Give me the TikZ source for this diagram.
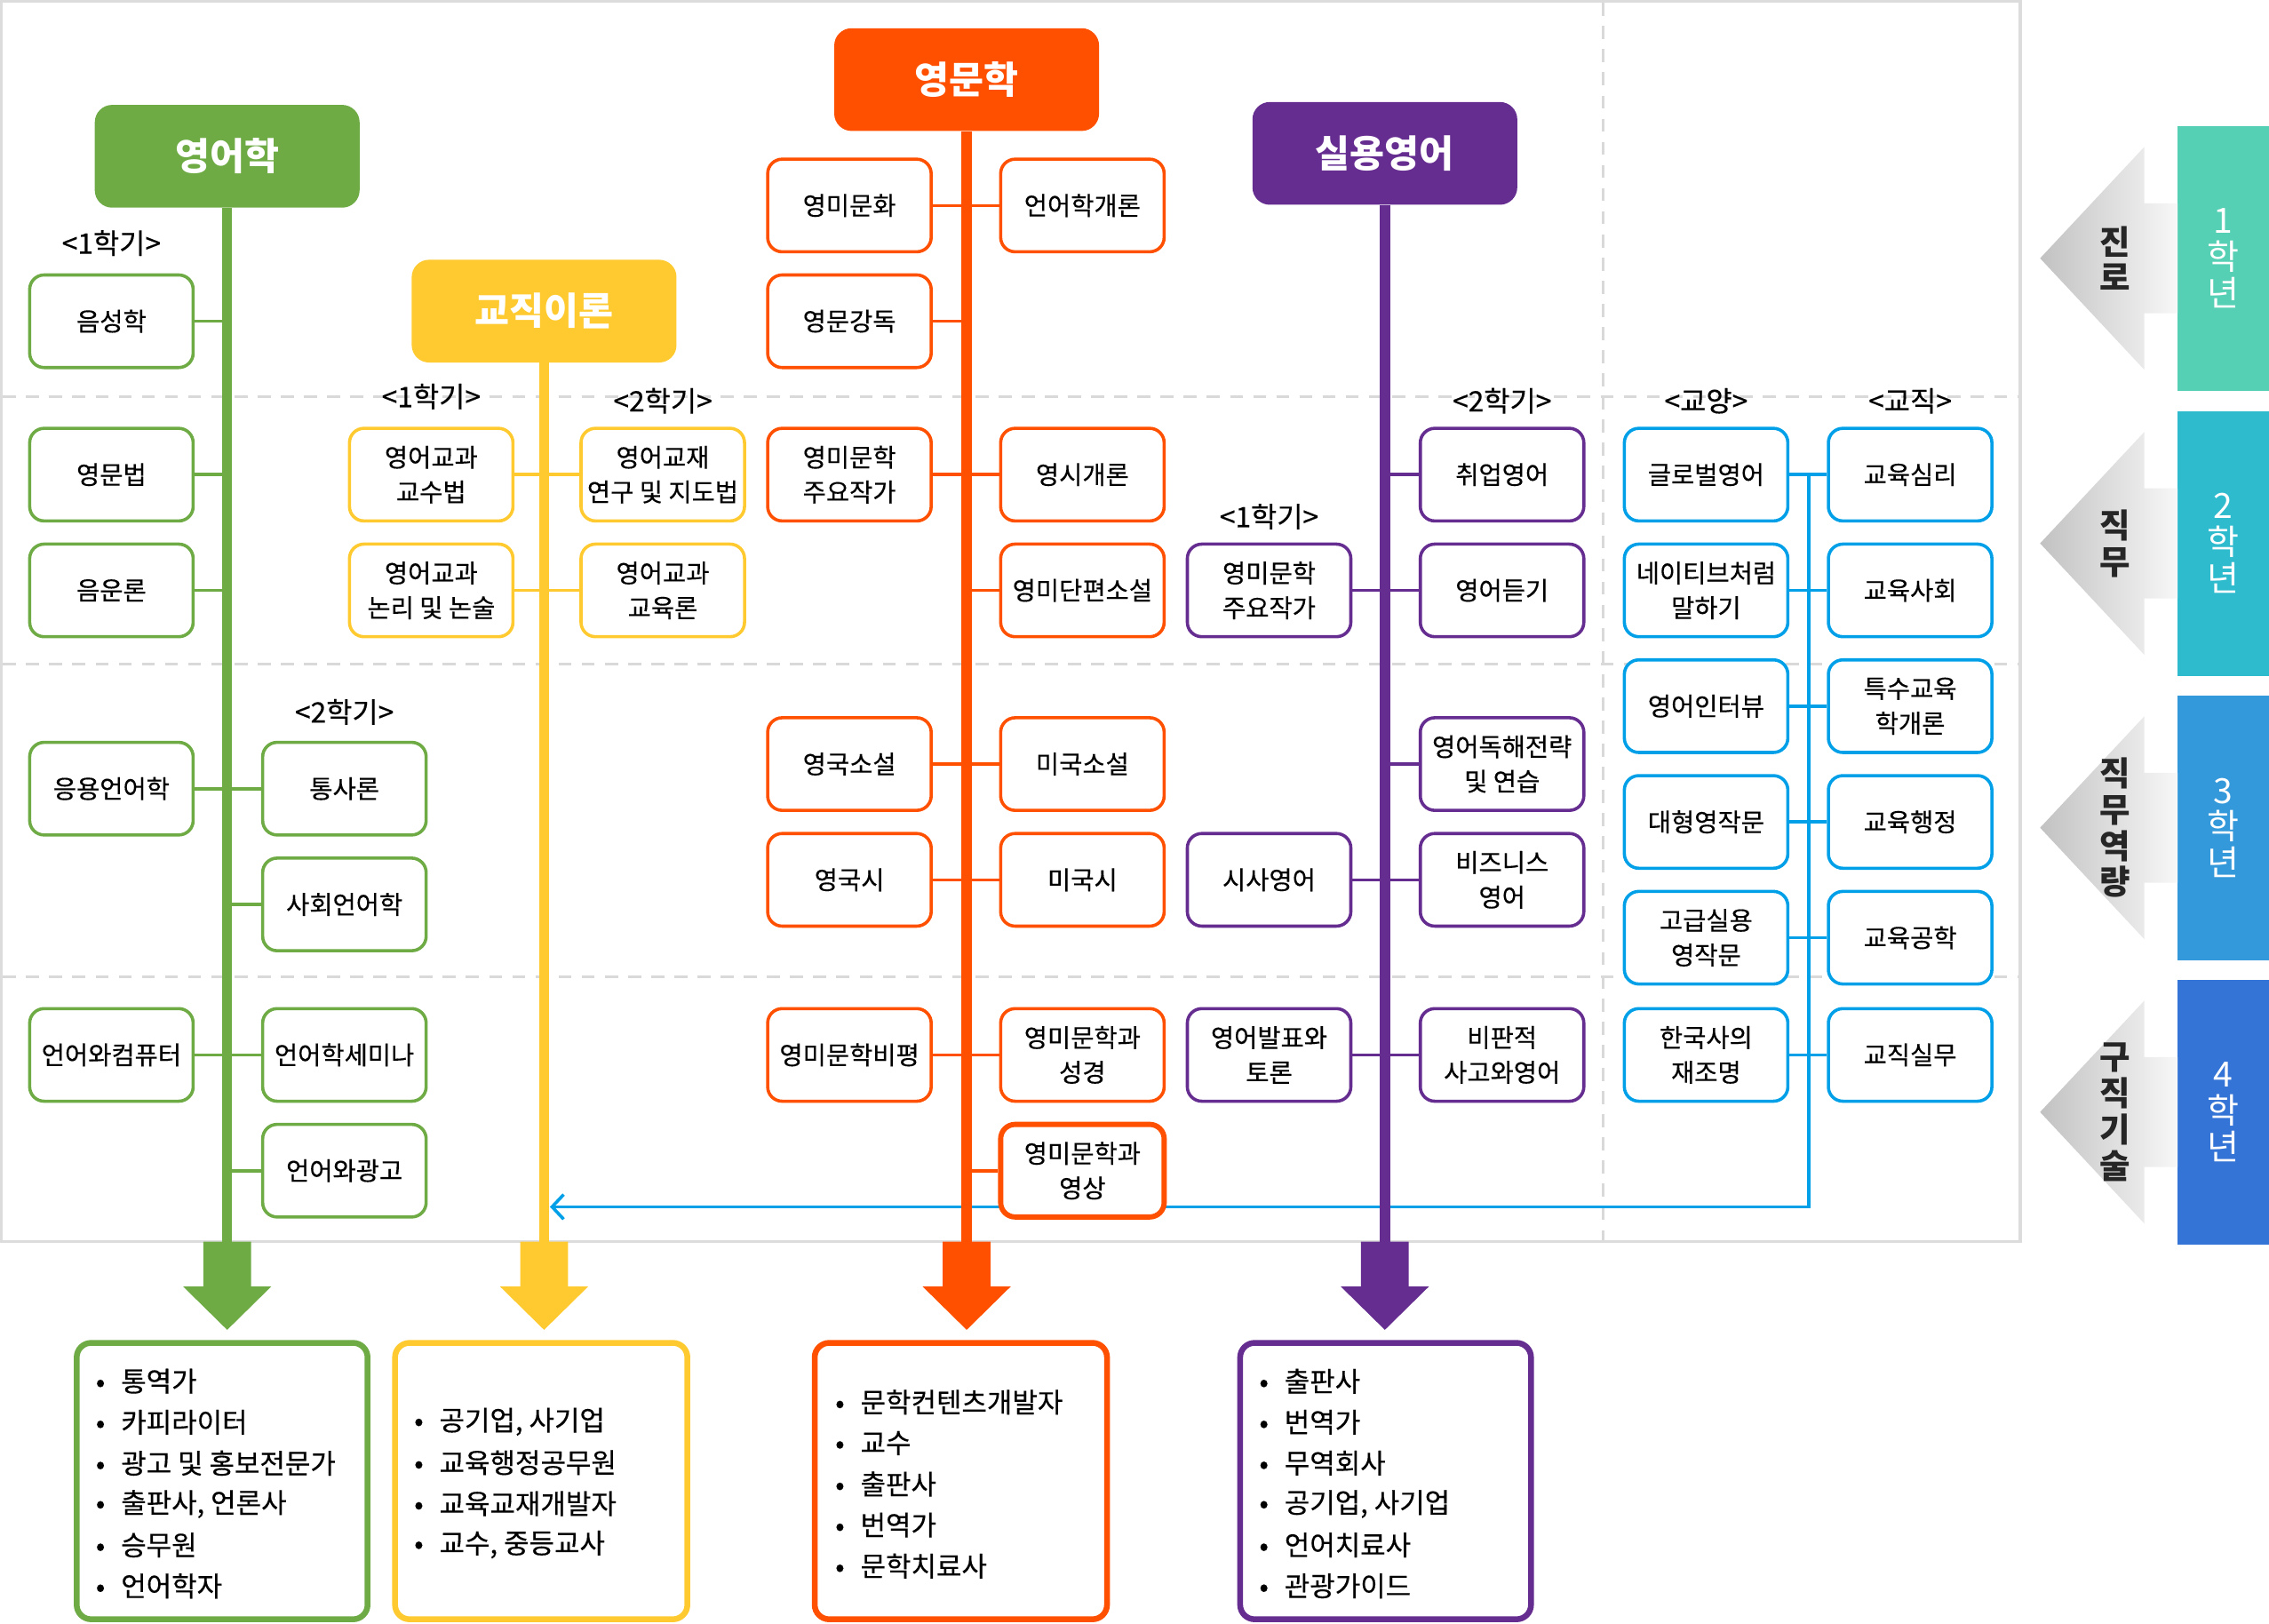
\documentclass[tikz,border=0pt]{standalone}
\usepackage{fontspec}
\setmainfont{Noto Sans CJK KR}
\newfontfamily\medium{Noto Sans CJK KR}[FakeBold=0.3]
\usetikzlibrary{arrows.meta}
\usetikzlibrary{calc}

\definecolor{lingreen}{HTML}{6EAB45}
\definecolor{eduyellow}{HTML}{FFCA2F}
\definecolor{litorange}{HTML}{FF5000}
\definecolor{prapurple}{HTML}{662D91}
\definecolor{genblue}{HTML}{00A0E9}
\definecolor{framegray}{HTML}{DCDCDC}
\definecolor{dashgray}{HTML}{D9D9D9}
\definecolor{yearA}{HTML}{56D0B4}
\definecolor{yearB}{HTML}{2DBBCD}
\definecolor{yearC}{HTML}{3399DA}
\definecolor{yearD}{HTML}{3474D6}

\newcommand\headfont{\fontsize{26}{28}\selectfont\bfseries}
\newcommand\subjfont{\medium\fontsize{17.5}{24}\selectfont}
\newcommand\termfont{\medium\fontsize{19.5}{22}\selectfont}
\newcommand\jobfont{\medium\fontsize{19}{22}\selectfont}
\newcommand\yearfont{\fontsize{24}{25}\selectfont}
\newcommand\stagefont{\fontsize{23}{25}\selectfont\bfseries}

\tikzset{
  head/.style={fill=#1, rounded corners=12pt, minimum width=183pt, minimum height=71pt, text=white, font=\headfont},
  subj/.style={draw=#1, fill=white, line width=2.2pt, rounded corners=10pt, minimum width=113pt, minimum height=64pt, inner sep=1pt, align=center, font=\subjfont},
  link/.style={draw=#1, line width=2.2pt},
  trunk/.style={draw=#1, line width=7pt},
  term/.style={font=\termfont, inner sep=0pt},
  jobbox/.style={draw=#1, line width=4pt, rounded corners=10pt, minimum height=191pt},
  jobitem/.style={anchor=west, inner sep=0pt, font=\jobfont},
  yeartab/.style={fill=#1, text=white, minimum width=63pt, minimum height=183pt, inner sep=0pt, align=center, font=\yearfont},
  stage/.style={inner sep=0pt, align=center, font=\stagefont, text=black!85},
  gridline/.style={dashgray, line width=2pt, dash pattern=on 9pt off 7pt}
}

% fat arrow hanging under a trunk
\newcommand\bigdown[2]{\fill[#1] (#2) ++(-16.5,0) -- ++(33,0) -- ++(0,31) -- ++(14,0) -- ++(-30.5,30) -- ++(-30.5,-30) -- ++(14,0) -- cycle;}
% gray arrow pointing away from a year tab
\newcommand\stagearrow[1]{\shade[left color=black!24, right color=black!3] (#1.west) ++(-95,0) -- ++(72,-77) -- ++(0,39) -- ++(23,0) -- ++(0,76) -- ++(-23,0) -- ++(0,39) -- cycle;}

\begin{document}
\begin{tikzpicture}[x=1pt,y=-1pt]
  \useasboundingbox (0,0) rectangle (1568,1122);
  \draw[framegray, line width=2.2pt] (1,1) rectangle (1396,858);
  \foreach \yy in {274,459,675} \draw[gridline] (2,\yy) -- (1395,\yy);
  \draw[gridline] (1108,2) -- (1108,857);

  \node[head=lingreen] (ling) at (157,108) {영어학};
  \node[head=eduyellow] (edu) at (376,215) {교직이론};
  \node[head=litorange] (lit) at (668,55) {영문학};
  \node[head=prapurple] (prac) at (957,106) {실용영어};
  \foreach \h in {ling,edu,lit,prac} \coordinate (\h-end) at (\h.south |- 0,858);

  % general and teaching courses
  \foreach \n/\yy/\l/\r in {1/328/글로벌영어/교육심리, 2/408/{네이티브처럼\\말하기}/교육사회,
      3/488/영어인터뷰/{특수교육\\학개론}, 4/568/대형영작문/교육행정,
      5/648/{고급실용\\영작문}/교육공학, 6/729/{한국사의\\재조명}/교직실무} {
    \node[subj=genblue] (gen\n) at (1179,\yy) {\l};
    \node[subj=genblue] (tea\n) at (1320,\yy) {\r};
    \draw[link=genblue] (gen\n) -- (tea\n);
  }
  \coordinate (bus) at (1250,834);
  \draw[link=genblue, -{Straight Barb[length=8pt,width=17pt]}] (gen1.east -| bus) -- (bus) -- ($(edu-end |- bus)+(4,0)$);
  \node[term] (genT) at (1179,277) {<교양>};
  \node[term] (teaT) at (1320,277) {<교직>};

  \foreach \h/\c in {ling/lingreen, edu/eduyellow, lit/litorange, prac/prapurple} {
    \draw[trunk=\c] (\h.south) -- (\h-end);
    \bigdown{\c}{\h-end}
  }

  \foreach \n/\x/\yy/\s/\t in {1/77/222/east/음성학, 2/77/328/east/영문법, 3/77/408/east/음운론,
      4/77/545/east/응용언어학, 5/238/545/west/통사론, 6/238/625/west/사회언어학,
      7/77/729/east/언어와컴퓨터, 8/238/729/west/언어학세미나, 9/238/809/west/언어와광고} {
    \node[subj=lingreen] (ling\n) at (\x,\yy) {\t};
    \draw[link=lingreen] (ling\n.\s) -- (ling\n.\s -| ling);
  }
  \node[term] (lingT1) at (77,168) {<1학기>};
  \node[term] (lingT2) at (238,492) {<2학기>};

  \foreach \n/\x/\yy/\s/\t in {1/298/328/east/{영어교과\\교수법}, 2/458/328/west/{영어교재\\연구 및 지도법},
      3/298/408/east/{영어교과\\논리 및 논술}, 4/458/408/west/{영어교과\\교육론}} {
    \node[subj=eduyellow] (edu\n) at (\x,\yy) {\t};
    \draw[link=eduyellow] (edu\n.\s) -- (edu\n.\s -| edu);
  }
  \node[term] (eduT1) at (298,274) {<1학기>};
  \node[term] (eduT2) at (458,277) {<2학기>};

  \foreach \n/\x/\yy/\s/\t in {1/587/142/east/영미문화, 2/748/142/west/언어학개론, 3/587/222/east/영문강독,
      4/587/328/east/{영미문학\\주요작가}, 5/748/328/west/영시개론, 6/748/408/west/영미단편소설,
      7/587/528/east/영국소설, 8/748/528/west/미국소설, 9/587/608/east/영국시, 10/748/608/west/미국시,
      11/587/729/east/영미문학비평, 12/748/729/west/{영미문학과\\성경}} {
    \node[subj=litorange] (lit\n) at (\x,\yy) {\t};
    \draw[link=litorange] (lit\n.\s) -- (lit\n.\s -| lit);
  }
  \node[subj=litorange, line width=3.6pt] (lit13) at (748,809) {영미문학과\\영상};
  \draw[link=litorange] (lit13.west) -- (lit13.west -| lit);

  \foreach \n/\x/\yy/\s/\t in {1/1038/328/west/취업영어, 2/877/408/east/{영미문학\\주요작가}, 3/1038/408/west/영어듣기,
      4/1038/528/west/{영어독해전략\\및 연습}, 5/877/608/east/시사영어, 6/1038/608/west/{비즈니스\\영어},
      7/877/729/east/{영어발표와\\토론}, 8/1038/729/west/{비판적\\사고와영어}} {
    \node[subj=prapurple] (prac\n) at (\x,\yy) {\t};
    \draw[link=prapurple] (prac\n.\s) -- (prac\n.\s -| prac);
  }
  \node[term] (pracT2) at (1038,277) {<2학기>};
  \node[term] (pracT1) at (877,357) {<1학기>};

  % careers
  \node[jobbox=lingreen, minimum width=201pt] (lingjob) at (153.5,1023.5) {};
  \foreach \t [count=\i] in {통역가, 카피라이터, 광고 및 홍보전문가, {출판사, 언론사}, 승무원, 언어학자}
    \node[jobitem] (lingjob\i) at (66,{954.5+28.3*(\i-1)}) {\textbullet\hspace{11pt}\t};
  \node[jobbox=eduyellow, minimum width=202pt] (edujob) at (374,1023.5) {};
  \foreach \t [count=\i] in {{공기업, 사기업}, 교육행정공무원, 교육교재개발자, {교수, 중등교사}}
    \node[jobitem] (edujob\i) at (286,{982.5+28.3*(\i-1)}) {\textbullet\hspace{11pt}\t};
  \node[jobbox=litorange, minimum width=202pt] (litjob) at (664,1023.5) {};
  \foreach \t [count=\i] in {문학컨텐츠개발자, 교수, 출판사, 번역가, 문학치료사}
    \node[jobitem] (litjob\i) at (577,{969+28.3*(\i-1)}) {\textbullet\hspace{11pt}\t};
  \node[jobbox=prapurple, minimum width=201pt] (pracjob) at (957.5,1023.5) {};
  \foreach \t [count=\i] in {출판사, 번역가, 무역회사, {공기업, 사기업}, 언어치료사, 관광가이드}
    \node[jobitem] (pracjob\i) at (870,{954.5+28.3*(\i-1)}) {\textbullet\hspace{11pt}\t};

  % year tabs
  \foreach \n/\yy/\c/\t/\s in {1/178.5/yearA/{1\\학\\년}/{진\\로}, 2/375.5/yearB/{2\\학\\년}/{직\\무},
      3/572/yearC/{3\\학\\년}/{직\\무\\역\\량}, 4/768.5/yearD/{4\\학\\년}/{구\\직\\기\\술}} {
    \node[yeartab=\c] (year\n) at (1536.5,\yy) {\t};
    \stagearrow{year\n}
    \node[stage] (stage\n) at ([xshift=-43pt]year\n.west) {\s};
  }
\end{tikzpicture}
\end{document}
